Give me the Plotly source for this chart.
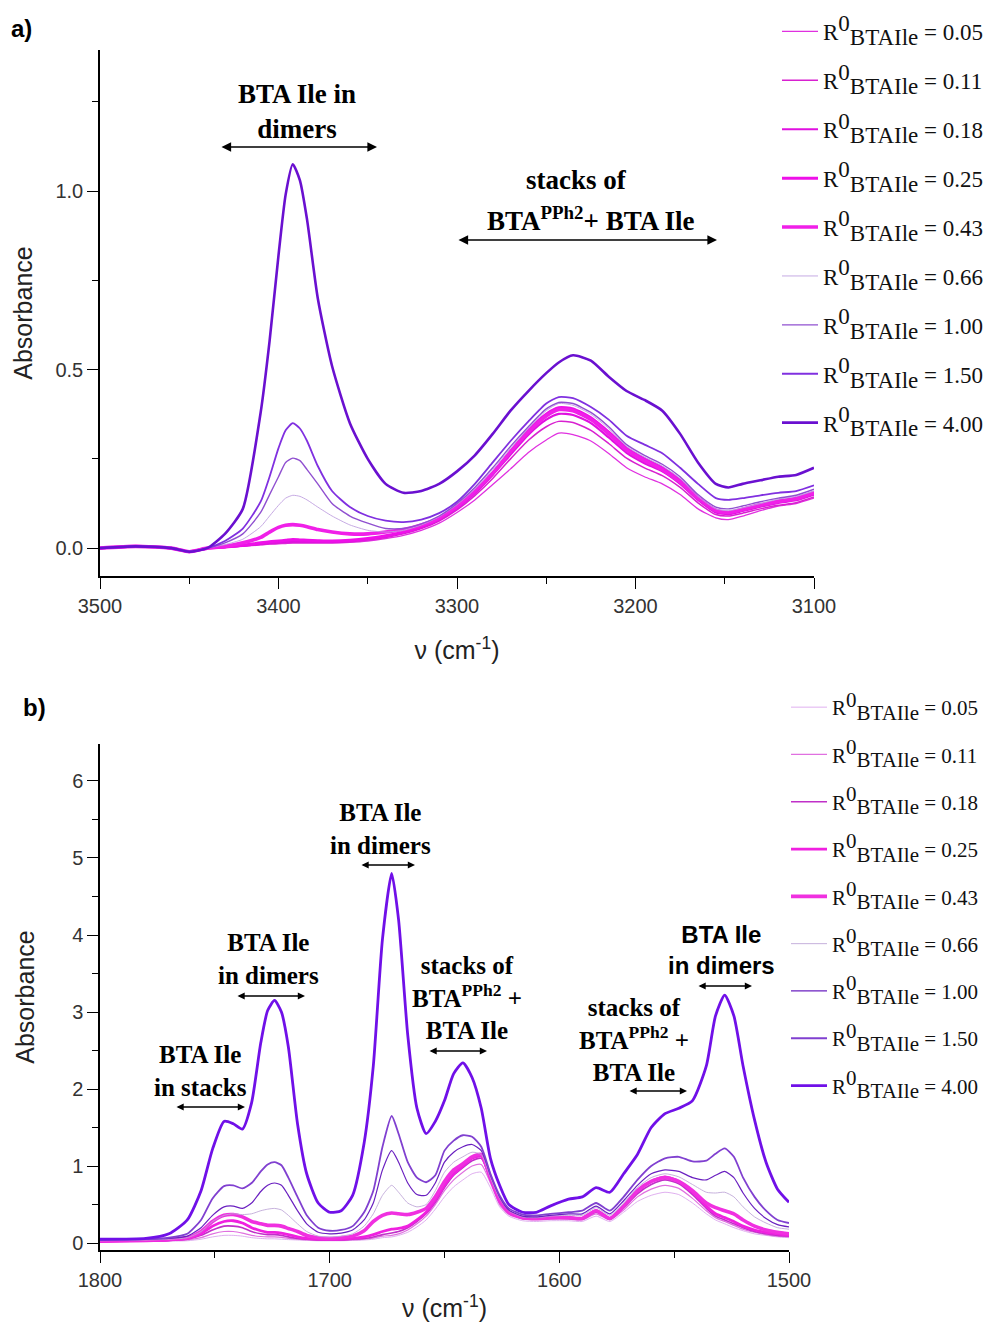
import plotly.graph_objects as go

W, H = 993, 1322

# ---------------- data: panel a (N-H region) ----------------
xa = [3500, 3480, 3460, 3450, 3440, 3430, 3420, 3410, 3405, 3400, 3396, 3392, 3388, 3384, 3378,
      3370, 3360, 3350, 3340, 3330, 3320, 3310, 3300, 3290, 3280, 3270, 3260, 3250, 3243, 3235,
      3225, 3215, 3205, 3195, 3185, 3175, 3165, 3155, 3148, 3140, 3130, 3120, 3110, 3100]

a_005 = [0.0, 0.005, 0.0, -0.01, 0.0, 0.002, 0.005, 0.009, 0.011, 0.012, 0.013, 0.014, 0.014, 0.014, 0.014,
         0.014, 0.016, 0.02, 0.027, 0.036, 0.05, 0.07, 0.1, 0.135, 0.178, 0.222, 0.268, 0.303, 0.322, 0.318,
         0.3, 0.265, 0.225, 0.2, 0.18, 0.15, 0.11, 0.085, 0.08, 0.09, 0.105, 0.118, 0.125, 0.14]
a_011 = [0.0, 0.005, 0.0, -0.01, 0.0, 0.002, 0.006, 0.01, 0.012, 0.014, 0.015, 0.016, 0.016, 0.016, 0.016,
         0.016, 0.018, 0.023, 0.03, 0.04, 0.055, 0.076, 0.107, 0.147, 0.195, 0.25, 0.302, 0.34, 0.355, 0.352,
         0.33, 0.293, 0.252, 0.225, 0.203, 0.17, 0.127, 0.094, 0.09, 0.098, 0.11, 0.12, 0.127, 0.143]
a_018 = [0.0, 0.005, 0.0, -0.01, 0.0, 0.003, 0.007, 0.012, 0.015, 0.017, 0.018, 0.019, 0.019, 0.018, 0.018,
         0.018, 0.02, 0.025, 0.033, 0.043, 0.058, 0.08, 0.112, 0.154, 0.205, 0.262, 0.318, 0.36, 0.376, 0.373,
         0.35, 0.31, 0.267, 0.238, 0.215, 0.18, 0.135, 0.1, 0.095, 0.104, 0.116, 0.127, 0.134, 0.15]
a_025 = [0.0, 0.005, 0.0, -0.01, 0.0, 0.003, 0.008, 0.015, 0.018, 0.02, 0.022, 0.024, 0.023, 0.022, 0.021,
         0.02, 0.022, 0.027, 0.035, 0.045, 0.06, 0.082, 0.115, 0.158, 0.21, 0.27, 0.33, 0.375, 0.393, 0.39,
         0.365, 0.325, 0.28, 0.25, 0.225, 0.19, 0.142, 0.107, 0.1, 0.11, 0.122, 0.132, 0.14, 0.157]
a_043 = [0.0, 0.005, 0.0, -0.01, 0.0, 0.005, 0.015, 0.03, 0.045, 0.058, 0.064, 0.066, 0.064, 0.06, 0.052,
         0.045, 0.04, 0.04, 0.045, 0.052, 0.065, 0.085, 0.118, 0.16, 0.21, 0.27, 0.325, 0.37, 0.388, 0.385,
         0.36, 0.32, 0.275, 0.245, 0.22, 0.185, 0.14, 0.105, 0.1, 0.108, 0.12, 0.13, 0.138, 0.155]
a_066 = [0.0, 0.005, 0.0, -0.01, 0.0, 0.01, 0.025, 0.06, 0.09, 0.12, 0.14, 0.148, 0.145, 0.135, 0.115,
         0.09, 0.065, 0.05, 0.045, 0.05, 0.065, 0.088, 0.122, 0.165, 0.22, 0.28, 0.335, 0.385, 0.405, 0.4,
         0.375, 0.335, 0.285, 0.255, 0.23, 0.195, 0.145, 0.11, 0.105, 0.113, 0.125, 0.137, 0.145, 0.16]
a_100 = [0.0, 0.005, 0.0, -0.01, 0.0, 0.015, 0.04, 0.1, 0.15, 0.2, 0.24, 0.252, 0.245, 0.22, 0.18,
         0.125, 0.09, 0.07, 0.055, 0.055, 0.068, 0.09, 0.125, 0.17, 0.225, 0.285, 0.34, 0.39, 0.408, 0.405,
         0.38, 0.34, 0.29, 0.26, 0.235, 0.2, 0.15, 0.115, 0.11, 0.118, 0.13, 0.14, 0.148, 0.165]
a_150 = [0.0, 0.005, 0.0, -0.01, 0.0, 0.02, 0.055, 0.13, 0.2, 0.28, 0.33, 0.35, 0.335, 0.30, 0.23,
         0.16, 0.115, 0.09, 0.077, 0.073, 0.08, 0.098, 0.13, 0.18, 0.24, 0.3, 0.355, 0.405, 0.423, 0.42,
         0.395, 0.36, 0.315, 0.29, 0.266, 0.225, 0.18, 0.14, 0.135, 0.14, 0.148, 0.155, 0.16, 0.176]
a_400 = [0.0, 0.005, 0.0, -0.01, 0.0, 0.04, 0.11, 0.38, 0.58, 0.82, 0.99, 1.075, 1.03, 0.92, 0.70,
         0.51, 0.35, 0.25, 0.18, 0.155, 0.16, 0.18, 0.215, 0.26, 0.32, 0.385, 0.44, 0.49, 0.52, 0.54,
         0.525, 0.48, 0.44, 0.415, 0.385, 0.32, 0.24, 0.18, 0.17, 0.18, 0.19, 0.2, 0.205, 0.225]

# ---------------- data: panel b (C=O / amide region) ----------------
xb = [1800, 1780, 1770, 1762, 1756, 1751, 1746, 1742, 1738, 1734, 1730, 1727, 1724, 1721, 1718,
      1714, 1710, 1705, 1700, 1695, 1690, 1685, 1681, 1677, 1673, 1670, 1666, 1662, 1658, 1654,
      1650, 1646, 1642, 1638, 1634, 1630, 1626, 1622, 1616, 1610, 1604, 1596, 1590, 1584, 1578,
      1572, 1566, 1560, 1554, 1548, 1542, 1536, 1532, 1528, 1524, 1520, 1515, 1510, 1505, 1500]

b_005 = [0.02, 0.02, 0.025, 0.03, 0.05, 0.08, 0.1, 0.1, 0.09, 0.07, 0.06, 0.055, 0.055, 0.05, 0.045,
         0.04, 0.035, 0.03, 0.03, 0.03, 0.035, 0.04, 0.05, 0.07, 0.08, 0.1, 0.14, 0.21, 0.3, 0.44,
         0.6, 0.73, 0.82, 0.9, 0.92, 0.72, 0.47, 0.35, 0.29, 0.28, 0.29, 0.29, 0.28, 0.35, 0.28,
         0.4, 0.54, 0.62, 0.66, 0.63, 0.52, 0.38, 0.3, 0.25, 0.2, 0.16, 0.12, 0.1, 0.08, 0.07]
b_011 = [0.02, 0.025, 0.03, 0.04, 0.07, 0.12, 0.15, 0.15, 0.13, 0.1, 0.085, 0.08, 0.08, 0.075, 0.06,
         0.05, 0.04, 0.035, 0.035, 0.035, 0.04, 0.05, 0.065, 0.09, 0.1, 0.12, 0.17, 0.25, 0.35, 0.5,
         0.68, 0.82, 0.92, 1.0, 1.02, 0.78, 0.5, 0.37, 0.31, 0.3, 0.31, 0.31, 0.3, 0.38, 0.3,
         0.43, 0.6, 0.7, 0.75, 0.71, 0.58, 0.42, 0.33, 0.28, 0.23, 0.18, 0.14, 0.11, 0.09, 0.08]
b_018 = [0.02, 0.03, 0.035, 0.05, 0.1, 0.17, 0.22, 0.22, 0.2, 0.15, 0.12, 0.11, 0.11, 0.1, 0.08,
         0.06, 0.05, 0.04, 0.04, 0.04, 0.05, 0.06, 0.08, 0.11, 0.13, 0.15, 0.2, 0.28, 0.38, 0.53,
         0.72, 0.88, 0.98, 1.07, 1.1, 0.82, 0.53, 0.39, 0.32, 0.31, 0.32, 0.32, 0.31, 0.4, 0.31,
         0.46, 0.64, 0.76, 0.82, 0.77, 0.63, 0.45, 0.35, 0.3, 0.25, 0.2, 0.15, 0.12, 0.1, 0.09]
b_025 = [0.02, 0.03, 0.04, 0.06, 0.12, 0.22, 0.28, 0.29, 0.26, 0.2, 0.16, 0.14, 0.14, 0.13, 0.11,
         0.08, 0.06, 0.05, 0.05, 0.05, 0.06, 0.08, 0.11, 0.15, 0.18, 0.19, 0.22, 0.3, 0.4, 0.56,
         0.75, 0.9, 1.0, 1.1, 1.13, 0.84, 0.55, 0.4, 0.33, 0.32, 0.33, 0.33, 0.32, 0.42, 0.32,
         0.48, 0.67, 0.8, 0.86, 0.8, 0.66, 0.48, 0.38, 0.33, 0.28, 0.22, 0.17, 0.14, 0.12, 0.1]
b_043 = [0.03, 0.04, 0.05, 0.07, 0.15, 0.28, 0.36, 0.37, 0.34, 0.28, 0.25, 0.23, 0.23, 0.22, 0.19,
         0.15, 0.1, 0.07, 0.06, 0.07, 0.09, 0.16, 0.28, 0.36, 0.39, 0.38, 0.37, 0.4, 0.45, 0.6,
         0.8, 0.95, 1.03, 1.12, 1.15, 0.85, 0.55, 0.4, 0.33, 0.32, 0.33, 0.33, 0.32, 0.42, 0.32,
         0.48, 0.68, 0.8, 0.85, 0.8, 0.68, 0.52, 0.46, 0.42, 0.38, 0.3, 0.22, 0.17, 0.14, 0.12]
b_066 = [0.03, 0.04, 0.05, 0.07, 0.15, 0.28, 0.36, 0.38, 0.37, 0.38, 0.42, 0.44, 0.45, 0.43, 0.36,
         0.25, 0.15, 0.09, 0.08, 0.09, 0.12, 0.22, 0.38, 0.62, 0.75, 0.66, 0.52, 0.47, 0.5, 0.68,
         0.92, 1.05, 1.12, 1.18, 1.15, 0.85, 0.58, 0.42, 0.34, 0.33, 0.35, 0.36, 0.36, 0.46, 0.36,
         0.52, 0.72, 0.85, 0.9, 0.86, 0.76, 0.66, 0.65, 0.66, 0.6, 0.47, 0.34, 0.26, 0.2, 0.18]
b_100 = [0.04, 0.05, 0.06, 0.09, 0.2, 0.36, 0.47, 0.48, 0.45, 0.52, 0.67, 0.75, 0.78, 0.75, 0.62,
         0.42, 0.25, 0.14, 0.12, 0.13, 0.17, 0.3, 0.52, 0.95, 1.2, 1.05, 0.78, 0.63, 0.62, 0.78,
         1.05, 1.18, 1.25, 1.28, 1.2, 0.88, 0.6, 0.43, 0.35, 0.34, 0.36, 0.38, 0.38, 0.48, 0.38,
         0.55, 0.75, 0.9, 0.95, 0.93, 0.85, 0.82, 0.88, 0.93, 0.85, 0.65, 0.45, 0.32, 0.24, 0.21]
b_150 = [0.04, 0.05, 0.07, 0.12, 0.3, 0.58, 0.74, 0.75, 0.71, 0.78, 0.93, 1.02, 1.05, 1.01, 0.85,
         0.6, 0.36, 0.2, 0.16, 0.17, 0.22, 0.4, 0.68, 1.25, 1.65, 1.42, 1.05, 0.85, 0.79, 0.88,
         1.2, 1.33, 1.4, 1.38, 1.25, 0.9, 0.62, 0.45, 0.37, 0.36, 0.38, 0.4, 0.42, 0.52, 0.42,
         0.6, 0.82, 1.0, 1.1, 1.12, 1.06, 1.07, 1.16, 1.23, 1.12, 0.85, 0.6, 0.42, 0.3, 0.26]
b_400 = [0.05, 0.06, 0.12, 0.3, 0.68, 1.22, 1.58, 1.55, 1.48, 1.82, 2.6, 3.02, 3.15, 3.0, 2.55,
         1.55, 0.9, 0.52, 0.4, 0.42, 0.62, 1.3, 2.3, 3.95, 4.8, 4.2, 2.7, 1.75, 1.42, 1.58,
         1.85, 2.2, 2.34, 2.15, 1.75, 1.1, 0.75, 0.5, 0.4, 0.4, 0.48, 0.57, 0.6, 0.72, 0.66,
         0.9, 1.15, 1.5, 1.68, 1.75, 1.85, 2.3, 2.95, 3.22, 2.95, 2.3, 1.6, 1.05, 0.7, 0.53]

ratios = ["0.05", "0.11", "0.18", "0.25", "0.43", "0.66", "1.00", "1.50", "4.00"]
series_a = [a_005, a_011, a_018, a_025, a_043, a_066, a_100, a_150, a_400]
series_b = [b_005, b_011, b_018, b_025, b_043, b_066, b_100, b_150, b_400]

# ---------------- styles ----------------
colors_a = ["#E030E0", "#D820D0", "#E010E0", "#EE10E8", "#F020E8", "#C0A0E0", "#9050D0", "#8030E0", "#6A10D0"]
widths_a = [1.3, 1.5, 2.2, 3.0, 3.6, 0.9, 1.4, 1.8, 2.6]
colors_b = ["#E0B0F0", "#E070E0", "#C030C8", "#F020E0", "#F030E0", "#C0A8D8", "#6A20C0", "#8040D0", "#7010E8"]
widths_b = [1.0, 1.2, 1.6, 2.8, 3.6, 0.9, 1.2, 1.8, 2.8]

SERIF = "Liberation Serif, Times New Roman, serif"
SANS = "Liberation Sans, Arial, sans-serif"


def px(x):
    return x / W


def py(y):
    return 1 - y / H


def legend_name(r, fs):
    return ("R<sup><span style=\"font-size:%dpx\">0</span></sup>"
            "<sub><span style=\"font-size:%dpx\">BTAIle</span></sub> = %s" % (fs, fs, r))


fig = go.Figure()

for i, r in enumerate(ratios):
    fig.add_trace(go.Scatter(x=xa, y=series_a[i], mode="lines", name=legend_name(r, 23),
                             line=dict(color=colors_a[i], width=widths_a[i], shape="spline", smoothing=0.6),
                             xaxis="x", yaxis="y", legend="legend", legendgroup="a" + r))
for i, r in enumerate(ratios):
    fig.add_trace(go.Scatter(x=xb, y=series_b[i], mode="lines", name=legend_name(r, 21),
                             line=dict(color=colors_b[i], width=widths_b[i], shape="spline", smoothing=0.6),
                             xaxis="x2", yaxis="y2", legend="legend2", legendgroup="b" + r))

axis_common = dict(showline=True, linecolor="black", linewidth=1.5, ticks="outside", tickcolor="black",
                   ticklen=11, tickwidth=1.3, showgrid=False, zeroline=False, automargin=False,
                   tickfont=dict(family=SANS, size=20, color="#333333"))
title_font = dict(family=SANS, size=25, color="#222222")

fig.update_layout(
    width=W, height=H, margin=dict(l=0, r=0, t=0, b=0, autoexpand=False),
    paper_bgcolor="white", plot_bgcolor="white", showlegend=True,
    xaxis=dict(domain=[px(100), px(814)], anchor="y", range=[3500, 3100], tickvals=[3500, 3400, 3300, 3200, 3100],
               minor=dict(ticks="outside", ticklen=6, dtick=50, tickcolor="black", tickwidth=1.3, tick0=3100),
               title=dict(text="ν (cm<sup>-1</sup>)", font=title_font, standoff=26),
               **axis_common),
    yaxis=dict(domain=[py(576), py(50)], anchor="x", range=[-0.078, 1.395], tickvals=[0, 0.5, 1.0],
               ticktext=["0.0", "0.5", "1.0"],
               minor=dict(ticks="outside", ticklen=6, dtick=0.25, tick0=0, tickcolor="black", tickwidth=1.3),
               title=dict(text="Absorbance", font=title_font, standoff=16),
               **axis_common),
    xaxis2=dict(domain=[px(100), px(789)], anchor="y2", range=[1800, 1500], tickvals=[1800, 1700, 1600, 1500],
                minor=dict(ticks="outside", ticklen=6, dtick=50, tickcolor="black", tickwidth=1.3, tick0=1500),
                title=dict(text="ν (cm<sup>-1</sup>)", font=title_font, standoff=15),
                **axis_common),
    yaxis2=dict(domain=[py(1250), py(744)], anchor="x2", range=[-0.09, 6.48], tickvals=[0, 1, 2, 3, 4, 5, 6],
                minor=dict(ticks="outside", ticklen=6, dtick=0.5, tick0=0, tickcolor="black", tickwidth=1.3),
                title=dict(text="Absorbance", font=title_font, standoff=30),
                **axis_common),
    legend=dict(x=px(777), y=py(10), xanchor="left", yanchor="top", bgcolor="rgba(0,0,0,0)",
                font=dict(family=SERIF, size=23, color="#111"), tracegroupgap=16, itemwidth=36),
    legend2=dict(x=px(786), y=py(687), xanchor="left", yanchor="top", bgcolor="rgba(0,0,0,0)",
                 font=dict(family=SERIF, size=21, color="#111"), tracegroupgap=17, itemwidth=36),
)

ann = []
# panel labels
ann.append(dict(x=px(9), y=py(29), text="<b>a)</b>", xanchor="left", yanchor="middle",
                font=dict(family=SANS, size=24, color="black")))
ann.append(dict(x=px(21), y=py(707), text="<b>b)</b>", xanchor="left", yanchor="middle",
                font=dict(family=SANS, size=24, color="black")))


def label(xc, yc, text, size=22, family=SERIF):
    ann.append(dict(x=px(xc), y=py(yc), text=text, xanchor="center", yanchor="middle",
                    font=dict(family=family, size=size, color="black")))


def darrow(x0, x1, yy, size=1.0):
    # head at x1, tail offset in pixels back to x0 (horizontal double-headed arrow)
    ann.append(dict(x=px(x1), y=py(yy), ax=x0 - x1, ay=0, axref="pixel", ayref="pixel", text="",
                    showarrow=True, arrowhead=2, arrowside="end+start", arrowsize=size, arrowwidth=1.6,
                    arrowcolor="black"))


# panel a annotations
label(297, 112, "<b>BTA Ile in</b><br><b>dimers</b>", 27)
darrow(220, 377, 147, 1.2)
label(576, 180, "<b>stacks of</b>", 27)
label(590, 219, "<b>BTA<sup>PPh2</sup>+ BTA Ile</b>", 27)
darrow(457, 717, 240, 1.2)

# panel b annotations
label(200, 1071, "<b>BTA Ile</b><br><b>in stacks</b>", 25)
darrow(175, 245, 1107, 0.9)
label(268, 959, "<b>BTA Ile</b><br><b>in dimers</b>", 25)
darrow(236, 305, 996, 0.9)
label(380, 829, "<b>BTA Ile</b><br><b>in dimers</b>", 25)
darrow(360, 415, 865, 0.9)
label(467, 998, "<b>stacks of</b><br><b>BTA<sup>PPh2</sup> +</b><br><b>BTA Ile</b>", 25)
darrow(428, 487, 1051, 0.9)
label(634, 1040, "<b>stacks of</b><br><b>BTA<sup>PPh2</sup> +</b><br><b>BTA Ile</b>", 25)
darrow(628, 687, 1091, 0.9)
label(721, 950, "<b>BTA Ile</b><br><b>in dimers</b>", 24, SANS)
darrow(697, 752, 986, 0.9)

for a in ann:
    a.setdefault("xref", "paper")
    a.setdefault("yref", "paper")
    a.setdefault("showarrow", False)
fig.update_layout(annotations=ann)

# remove the browser's default 8px body margin so the figure fills the window exactly
fig.write_html("out.html", config={"displayModeBar": False},
               post_script="document.body.style.margin='0';document.body.style.overflow='hidden';")
